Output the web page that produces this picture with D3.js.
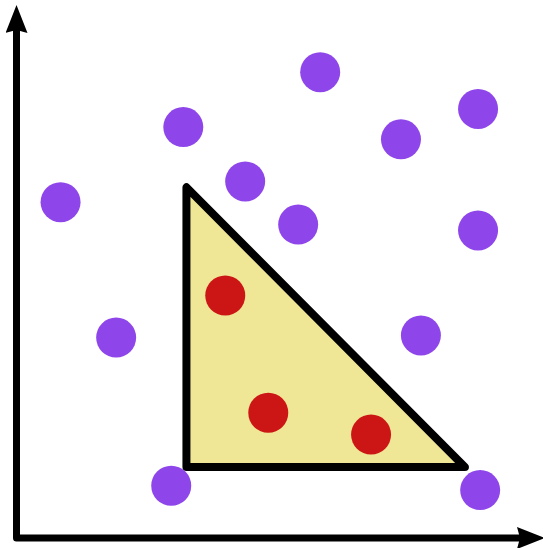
<!DOCTYPE html>
<html>
<head>
<meta charset="utf-8">
<script src="https://cdn.jsdelivr.net/npm/d3@7"></script>
<style>
  html, body { margin: 0; padding: 0; background: #ffffff; }
</style>
</head>
<body>
<div id="chart"></div>
<script>
// Points outside the triangle
var outerX = [57.9, 88.0, 31.8, 73.3, 43.6, 8.4, 53.7, 88.0, 19.0, 77.1, 29.5, 88.4];
var outerY = [87.4, 80.5, 77.1, 74.8, 66.9, 63.0, 58.8, 57.7, 37.6, 38.0, 9.8, 9.0];

// Points inside the triangle
var innerX = [39.8, 48.0, 67.6];
var innerY = [45.5, 23.5, 19.4];

// Triangle corners
var triX = [32.4, 32.4, 85.5];
var triY = [65.8, 13.3, 13.3];

var drawChart = function() {

    const width = 543;
    const height = 548;
    const dotRadius = 20;
    const axisWidth = 7;
    const arrowLen = 28;
    const xTipOver = 4; // x arrow tip runs a bit past the frame

    var purple = "#8e46ea";
    var red = "#cc1616";
    var triFill = "#f0e796";

    var svg = d3.select("#chart")
        .append("svg")
        .attr("width", width)
        .attr("height", height);

    var x = d3.scaleLinear().domain([0, 100]).range([16.5, 541]);
    var y = d3.scaleLinear().domain([0, 100]).range([538, 5]);

    // Arrow head marker, tip sits half an arrow beyond the line end
    svg.append("defs").append("marker")
        .attr("id", "arrow")
        .attr("viewBox", "0 0 28 22")
        .attr("refX", 14)
        .attr("refY", 11)
        .attr("markerWidth", arrowLen)
        .attr("markerHeight", 22)
        .attr("markerUnits", "userSpaceOnUse")
        .attr("orient", "auto-start-reverse")
        .append("path")
        .attr("d", "M0,0 L28,11 L0,22 L3,11 Z")
        .attr("fill", "#000");

    // Axes as one bent line: top -> origin -> right
    var axisPts = [
        [x(0), y(100) + arrowLen / 2],
        [x(0), y(0)],
        [x(100) + xTipOver - arrowLen / 2, y(0)]
    ];
    svg.append("path")
        .attr("d", d3.line()(axisPts))
        .attr("fill", "none")
        .attr("stroke", "#000")
        .attr("stroke-width", axisWidth)
        .attr("stroke-linejoin", "round")
        .attr("marker-start", "url(#arrow)")
        .attr("marker-end", "url(#arrow)");

    // Triangle
    var tri = triX.map(function(d, i) { return [x(d), y(triY[i])]; });
    svg.append("path")
        .attr("d", d3.line()(tri) + "Z")
        .attr("fill", triFill)
        .attr("stroke", "#000")
        .attr("stroke-width", 8)
        .attr("stroke-linejoin", "round");

    // Purple dots
    svg.append("g").selectAll("circle")
        .data(outerX)
        .join("circle")
        .attr("cx", function(d) { return x(d); })
        .attr("cy", function(d, i) { return y(outerY[i]); })
        .attr("r", dotRadius)
        .attr("fill", purple);

    // Red dots
    svg.append("g").selectAll("circle")
        .data(innerX)
        .join("circle")
        .attr("cx", function(d) { return x(d); })
        .attr("cy", function(d, i) { return y(innerY[i]); })
        .attr("r", dotRadius)
        .attr("fill", red);
}

window.addEventListener("load", drawChart);
</script>
</body>
</html>
